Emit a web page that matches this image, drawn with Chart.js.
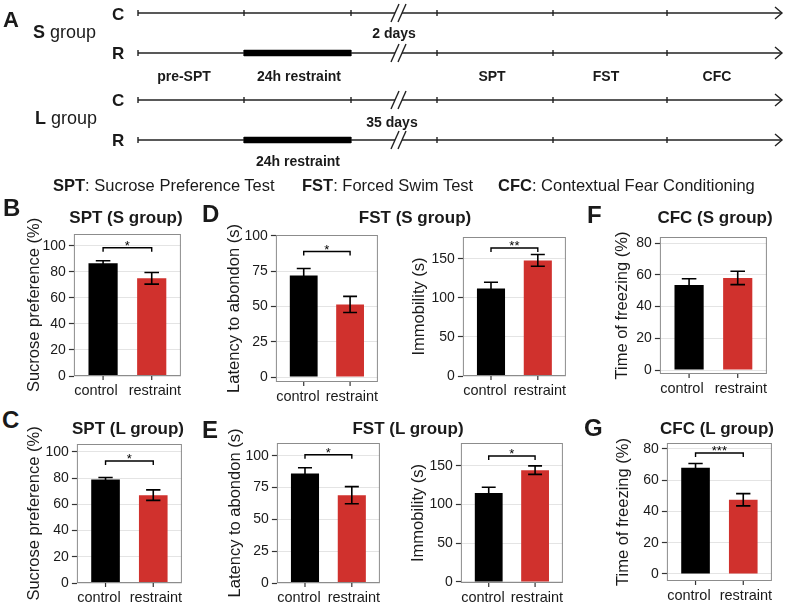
<!DOCTYPE html>
<html>
<head>
<meta charset="utf-8">
<script src="https://cdn.jsdelivr.net/npm/chart.js@4.4.1/dist/chart.umd.min.js"></script>
<style>
body { margin:0; width:787px; height:605px; background:#fff; position:relative; overflow:hidden; font-family:'Liberation Sans', Arial, sans-serif; color:#1a1a1a; }
canvas { position:absolute; }
.lbl { position:absolute; white-space:nowrap; }
</style>
</head>
<body>
<script>
// categories et couleurs des barres
const categories = ['control', 'restraint'];
const barColors = ['#000000', '#d0312d'];

// S group (moyenne +/- erreur)
const sptSMeans = [86.5, 75];
const sptSErr = [2, 4.5];
const fstSLatMeans = [72, 51.5];
const fstSLatErr = [5, 5.7];
const fstSImmMeans = [112, 148];
const fstSImmErr = [8, 7.5];
const cfcSMeans = [53.5, 58];
const cfcSErr = [4, 4.2];

// L group
const sptLMeans = [79, 67];
const sptLErr = [1.5, 4];
const fstLLatMeans = [86, 69];
const fstLLatErr = [4.5, 6.7];
const fstLImmMeans = [115, 144.5];
const fstLImmErr = [7.5, 5.5];
const cfcLMeans = [68, 47.5];
const cfcLErr = [2.7, 3.9];

// graduations des axes y
const pctTicks = [0, 20, 40, 60, 80, 100];
const latTicks = [0, 25, 50, 75, 100];
const immTicks = [0, 50, 100, 150];
const frzTicks = [0, 20, 40, 60, 80];

// timeline (panel A)
const rowYs = [13, 53, 100, 140];
const tickXs = [138, 244, 351, 437, 553, 667];
const restraintSpan = [244, 351];
const restraintRows = [53, 140];

const FONT = "'Liberation Sans', Arial, sans-serif";
Chart.defaults.font.family = FONT;
Chart.defaults.color = '#222';

function addText(html, x, y, size, align, bold) {
  const d = document.createElement('div');
  d.className = 'lbl';
  d.innerHTML = html;
  d.style.font = (bold ? 'bold ' : '') + size + 'px ' + FONT;
  d.style.lineHeight = size + 'px';
  d.style.top = (y - size / 2) + 'px';
  d.style.left = x + 'px';
  if (align == 'center') d.style.transform = 'translateX(-50%)';
  document.body.appendChild(d);
}

// ---- panel A : schema chronologique ----
const seg = (pts, w, col) => ({
  data: pts.map(p => ({x: p[0], y: p[1]})),
  showLine: true, borderColor: col || '#222', borderWidth: w || 1.4,
  pointRadius: 0, borderCapStyle: 'butt', clip: false
});
let tlSets = [];
// dataset 0 est dessine en dernier -> les barres epaisses d'abord
restraintRows.forEach(y => tlSets.push(seg([[restraintSpan[0], y], [restraintSpan[1], y]], 6.5, '#000')));
rowYs.forEach(y => {
  tlSets.push(seg([[138, y], [395, y]]));
  tlSets.push(seg([[402, y], [782, y]]));
  tickXs.forEach(x => tlSets.push(seg([[x, y - 3], [x, y + 3]])));
  [395, 402].forEach(c => tlSets.push(seg([[c - 4, y + 9], [c + 4, y - 9]])));
  tlSets.push(seg([[775, y - 6], [782, y], [775, y + 6]]));
});

const tlCanvas = document.createElement('canvas');
tlCanvas.width = 787; tlCanvas.height = 200;
tlCanvas.style.left = '0px'; tlCanvas.style.top = '0px';
document.body.appendChild(tlCanvas);
new Chart(tlCanvas, {
  type: 'scatter',
  data: {datasets: tlSets},
  options: {
    responsive: false, animation: false,
    layout: {padding: 0},
    scales: {
      x: {type: 'linear', min: 0, max: 787, display: false},
      y: {type: 'linear', min: 0, max: 200, reverse: true, display: false}
    },
    plugins: {legend: {display: false}, tooltip: {enabled: false}}
  }
});

addText('A', 3, 20, 22, 'left', true);
addText('<b>S</b> group', 33, 32, 18, 'left');
addText('C', 112, 14, 17, 'left', true);
addText('R', 112, 53, 17, 'left', true);
addText('2 days', 394, 33, 14, 'center', true);
addText('pre-SPT', 184, 76, 14, 'center', true);
addText('24h restraint', 299, 76, 14, 'center', true);
addText('SPT', 492, 76, 14, 'center', true);
addText('FST', 606, 76, 14, 'center', true);
addText('CFC', 717, 76, 14, 'center', true);
addText('<b>L</b> group', 35, 118, 18, 'left');
addText('C', 112, 100, 17, 'left', true);
addText('R', 112, 140, 17, 'left', true);
addText('35 days', 392, 122, 14, 'center', true);
addText('24h restraint', 298, 161, 14, 'center', true);
addText('<b>SPT</b>: Sucrose Preference Test', 53, 185, 16.5, 'left');
addText('<b>FST</b>: Forced Swim Test', 302, 185, 16.5, 'left');
addText('<b>CFC</b>: Contextual Fear Conditioning', 498, 185, 16.5, 'left');

// ---- barres d'erreur, crochet de significativite, cadre, graduations x ----
const extras = {
  id: 'extras',
  afterDatasetsDraw(chart, args, o) {
    const {ctx, chartArea: ca, scales: {x, y}} = chart;
    ctx.save();
    ctx.strokeStyle = '#000';
    ctx.lineWidth = 1.6;
    o.means.forEach((m, i) => {
      const px = x.getPixelForValue(i + 1);
      const cap = x.getPixelForValue(1.15) - x.getPixelForValue(1);
      const t = y.getPixelForValue(m + o.err[i]);
      const b = y.getPixelForValue(m - o.err[i]);
      ctx.beginPath();
      ctx.moveTo(px, t); ctx.lineTo(px, b);
      ctx.moveTo(px - cap, t); ctx.lineTo(px + cap, t);
      ctx.moveTo(px - cap, b); ctx.lineTo(px + cap, b);
      ctx.stroke();
    });
    if (o.sig) {
      const yy = y.getPixelForValue(o.sigAt);
      const x1 = x.getPixelForValue(1), x2 = x.getPixelForValue(2);
      ctx.lineWidth = 1.4;
      ctx.beginPath();
      ctx.moveTo(x1, yy + 4); ctx.lineTo(x1, yy); ctx.lineTo(x2, yy); ctx.lineTo(x2, yy + 4);
      ctx.stroke();
      ctx.fillStyle = '#000';
      ctx.font = '13px ' + FONT;
      ctx.textAlign = 'center';
      ctx.textBaseline = 'alphabetic';
      ctx.fillText(o.sig, (x1 + x2) / 2, yy + 2);
    }
    // petites graduations sous les barres
    ctx.strokeStyle = '#333';
    ctx.lineWidth = 1.2;
    [1, 2].forEach(v => {
      const px = x.getPixelForValue(v);
      ctx.beginPath(); ctx.moveTo(px, ca.bottom); ctx.lineTo(px, ca.bottom + 4); ctx.stroke();
    });
    ctx.strokeStyle = '#8c8c8c';
    ctx.lineWidth = 1;
    ctx.strokeRect(ca.left + 0.5, ca.top + 0.5, ca.right - ca.left - 1, ca.bottom - ca.top - 1);
    ctx.restore();
  }
};

const panels = [
  {means: sptSMeans, err: sptSErr, ticks: pctTicks, min: 0, max: 109, ytitle: 'Sucrose preference (%)', box: [74, 234, 181, 376], tx: 35, sig: '*', sigAt: 98.5},
  {means: fstSLatMeans, err: fstSLatErr, ticks: latTicks, min: -3.5, max: 100.7, ytitle: 'Latency to abondon (s)', box: [276, 235, 378, 382], tx: 235, sig: '*', sigAt: 89},
  {means: fstSImmMeans, err: fstSImmErr, ticks: immTicks, min: 0, max: 178, ytitle: 'Immobility (s)', box: [463, 237, 566, 376], tx: 420, sig: '**', sigAt: 164},
  {means: cfcSMeans, err: cfcSErr, ticks: frzTicks, min: -2.5, max: 83.8, ytitle: 'Time of freezing (%)', box: [660, 237, 767, 374], tx: 623, sig: null},
  {means: sptLMeans, err: sptLErr, ticks: pctTicks, min: 0, max: 106, ytitle: 'Sucrose preference (%)', box: [77, 444, 182, 583], tx: 35, sig: '*', sigAt: 93},
  {means: fstLLatMeans, err: fstLLatErr, ticks: latTicks, min: 0, max: 110, ytitle: 'Latency to abondon (s)', box: [277, 443, 380, 583], tx: 236, sig: '*', sigAt: 100.8},
  {means: fstLImmMeans, err: fstLImmErr, ticks: immTicks, min: -1.3, max: 179.6, ytitle: 'Immobility (s)', box: [461, 443, 563, 583], tx: 419, sig: '*', sigAt: 162.8},
  {means: cfcLMeans, err: cfcLErr, ticks: frzTicks, min: -4.5, max: 83.8, ytitle: 'Time of freezing (%)', box: [667, 443, 772, 581], tx: 624, sig: '***', sigAt: 77.4}
];

const yTitleSize = 16.5;
panels.forEach(p => {
  const padT = 25, padB = 12, padR = 8, xH = 24;
  const left = p.tx - yTitleSize * 1.2 / 2;
  const c = document.createElement('canvas');
  c.width = Math.round(p.box[2] - left + padR);
  c.height = p.box[3] - p.box[1] + padT + xH + padB;
  c.style.left = left + 'px';
  c.style.top = (p.box[1] - padT) + 'px';
  document.body.appendChild(c);
  const yW = p.box[0] - left;
  const ppu = (p.box[2] - p.box[0]) / 2.2;
  // position des etiquettes x (control cale a gauche, restraint a droite)
  const labelAt = [0.4 + 22 / ppu, 2.6 - 26 / ppu];
  new Chart(c, {
    type: 'bar',
    data: {
      datasets: [{
        data: p.means.map((v, i) => ({x: i + 1, y: v})),
        backgroundColor: barColors,
        borderWidth: 0,
        barPercentage: 0.6,
        categoryPercentage: 1
      }]
    },
    options: {
      responsive: false, animation: false,
      layout: {padding: {left: 0, top: padT, right: c.width - (p.box[2] - left), bottom: padB}},
      scales: {
        x: {
          type: 'linear', min: 0.4, max: 2.6, offset: false, bounds: 'data',
          afterBuildTicks: s => { s.ticks = labelAt.map(v => ({value: v})); },
          afterFit: s => { s.height = xH; },
          ticks: {callback: v => (v < 1.5 ? categories[0] : categories[1]), font: {size: 14.5}, padding: 2, maxRotation: 0, autoSkip: false, color: '#1a1a1a'},
          grid: {offset: false, drawOnChartArea: false, drawTicks: true, tickLength: 4, tickColor: 'rgba(0,0,0,0)'},
          border: {display: false}
        },
        y: {
          type: 'linear', min: p.min, max: p.max, bounds: 'data',
          afterBuildTicks: s => { s.ticks = p.ticks.map(v => ({value: v})); },
          afterFit: s => { s.width = yW; },
          ticks: {font: {size: 14}, padding: 3, color: '#1a1a1a'},
          grid: {color: '#e4e4e4', lineWidth: 1, drawTicks: true, tickLength: 5, tickColor: '#333', tickWidth: 1.2},
          border: {display: false},
          title: {display: true, text: p.ytitle, font: {size: yTitleSize}, padding: 0, color: '#1a1a1a'}
        }
      },
      plugins: {
        legend: {display: false}, tooltip: {enabled: false},
        extras: {means: p.means, err: p.err, sig: p.sig, sigAt: p.sigAt}
      }
    },
    plugins: [extras]
  });
});

// titres et lettres des panneaux
addText('SPT (S group)', 126, 217, 17, 'center', true);
addText('FST (S group)', 415, 217, 17, 'center', true);
addText('CFC (S group)', 715, 217, 17, 'center', true);
addText('SPT (L group)', 128, 428, 17, 'center', true);
addText('FST (L group)', 408, 428, 17, 'center', true);
addText('CFC (L group)', 717, 428, 17, 'center', true);
addText('B', 3, 208, 24, 'left', true);
addText('D', 202, 214, 24, 'left', true);
addText('F', 587, 215, 24, 'left', true);
addText('C', 2, 420, 24, 'left', true);
addText('E', 202, 430, 24, 'left', true);
addText('G', 584, 428, 24, 'left', true);
</script>
</body>
</html>
